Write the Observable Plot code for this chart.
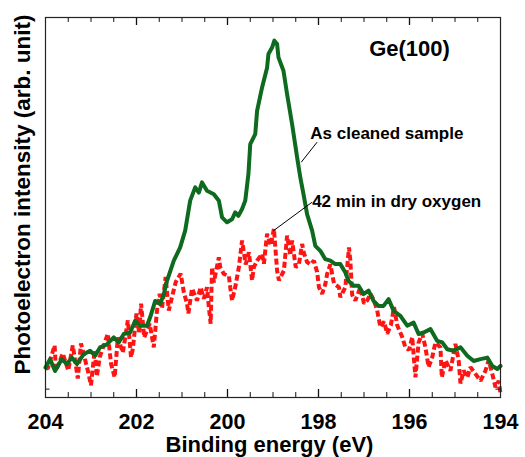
<!DOCTYPE html>
<html><head><meta charset="utf-8">
<script src="https://cdn.jsdelivr.net/npm/d3@7"></script>
<script src="https://cdn.jsdelivr.net/npm/@observablehq/plot@0.6"></script>
<style>body{margin:0;background:#fff}#chart{width:525px;height:457px}</style>
</head><body><div id="chart"></div>
<script>
// As cleaned sample (green)
const greenEnergy = [204.00,203.90,203.79,203.64,203.53,203.42,203.31,203.16,203.02,202.91,202.80,202.65,202.50,202.39,202.28,202.14,202.03,201.92,201.77,201.70,201.59,201.48,201.40,201.33,201.18,201.04,200.93,200.82,200.71,200.63,200.56,200.45,200.30,200.19,200.12,200.01,199.90,199.83,199.76,199.68,199.61,199.54,199.50,199.39,199.35,199.24,199.13,199.10,199.02,198.97,198.91,198.88,198.77,198.69,198.58,198.47,198.40,198.33,198.25,198.14,198.07,197.96,197.85,197.74,197.63,197.52,197.41,197.34,197.23,197.12,197.01,196.90,196.79,196.68,196.57,196.46,196.35,196.20,196.05,195.91,195.80,195.69,195.54,195.39,195.28,195.17,195.03,194.88,194.73,194.59,194.44,194.29,194.18,194.07,194.00];
const greenIntensity = [7.9,10.1,7.0,10.1,8.8,10.5,8.8,11.4,12.3,11.0,13.2,14.0,15.8,14.5,16.7,17.1,20.2,18.9,18.9,21.1,25.4,24.6,27.2,30.7,36.0,39.5,43.9,51.8,55.3,53.9,56.6,54.4,53.5,51.8,47.4,46.1,46.9,48.7,47.8,49.6,51.8,58.8,66.7,69.3,75.4,81.6,86.8,90.4,92.1,93.9,93.0,89.5,86.0,79.8,71.9,63.2,57.9,53.5,48.2,43.9,39.9,38.6,36.4,36.0,35.1,35.1,32.9,30.7,29.4,29.4,27.2,28.1,25.4,24.1,24.1,25.9,22.8,21.5,18.9,19.7,16.7,17.1,18.0,14.9,14.5,12.7,12.3,13.2,11.0,9.6,10.1,10.5,8.3,7.5,8.3];
// 42 min in dry oxygen (red, dashed)
const redEnergy = [204.00,203.95,203.80,203.77,203.62,203.50,203.40,203.29,203.22,203.07,203.00,202.92,202.87,202.81,202.63,202.56,202.48,202.41,202.30,202.19,202.12,202.08,202.00,201.94,201.90,201.83,201.71,201.62,201.55,201.49,201.44,201.36,201.29,201.22,201.14,201.03,200.96,200.89,200.86,200.78,200.67,200.59,200.52,200.45,200.41,200.37,200.34,200.30,200.19,200.16,200.08,199.97,199.94,199.90,199.83,199.75,199.68,199.60,199.53,199.46,199.42,199.35,199.24,199.20,199.13,199.05,198.98,198.91,198.87,198.76,198.69,198.62,198.58,198.50,198.43,198.36,198.32,198.25,198.18,198.10,198.03,197.99,197.92,197.85,197.81,197.74,197.66,197.55,197.52,197.41,197.33,197.30,197.26,197.19,197.08,197.00,196.93,196.86,196.78,196.71,196.64,196.56,196.49,196.41,196.34,196.27,196.16,196.09,196.01,195.94,195.87,195.80,195.72,195.65,195.58,195.50,195.43,195.32,195.29,195.21,195.10,194.99,194.92,194.88,194.81,194.73,194.66,194.55,194.44,194.33,194.26,194.18,194.11,194.04,194.00];
const redIntensity = [7.9,7.6,13.7,7.1,11.6,7.1,13.7,5.0,14.2,7.1,3.2,12.4,5.5,10.6,16.8,8.9,5.3,15.8,11.8,20.3,10.6,12.9,22.1,16.8,24.7,15.8,19.4,13.2,22.9,27.3,23.4,31.7,22.9,26.4,30.3,32.6,27.7,24.7,22.1,28.7,25.5,29.0,26.0,29.0,23.8,19.4,34.3,30.3,36.9,34.3,32.5,32.0,29.0,25.5,29.0,34.3,41.3,35.0,38.2,30.8,34.3,36.0,37.8,35.2,43.1,40.0,44.4,33.4,30.8,33.4,42.6,37.4,41.3,34.3,35.0,40.4,38.0,35.6,35.0,36.0,33.0,29.0,27.3,29.8,32.5,35.0,30.0,29.0,26.4,29.0,39.5,36.0,27.0,25.5,29.0,24.7,25.5,27.3,25.5,22.9,18.5,20.0,16.8,19.0,23.8,19.0,15.9,13.2,12.5,15.9,5.3,14.5,16.8,13.2,8.0,10.6,14.5,13.2,5.3,9.8,7.1,14.1,9.8,3.7,7.1,5.3,8.0,6.2,4.4,7.1,9.8,6.2,2.7,4.4,1.0];

const xTickLabels = [204, 202, 200, 198, 196, 194];
const minorTicks = [203.5,203,202.5,202,201.5,201,200.5,200,199.5,199,198.5,198,197.5,197,196.5,196,195.5,195,194.5];
const majorTicks = [202, 200, 198, 196];
const seriesNames = ["As cleaned sample", "42 min in dry oxygen"];
const sampleLabel = "Ge(100)";
const xLabel = "Binding energy (eV)";
const yLabel = "Photoelectron intensity (arb. unit)";

// annotation anchors (data units)
const annotations = [
  {text: seriesNames[0], E: 198.18, v: 69.5, E1: 198.03, v1: 67.2, E2: 198.38, v2: 61.9},
  {text: seriesNames[1], E: 198.14, v: 51.5, E1: 198.14, v1: 51.4, E2: 198.99, v2: 43.9}
];

const green = greenEnergy.map((e, i) => ({E: e, v: greenIntensity[i]}));
const red = redEnergy.map((e, i) => ({E: e, v: redIntensity[i]}));

const font = "'Liberation Sans', Arial, sans-serif";

const chart = Plot.plot({
  width: 525,
  height: 457,
  marginLeft: 45,
  marginRight: 25,
  marginTop: 17,
  marginBottom: 60,
  style: {fontFamily: font, background: "#fff"},
  x: {domain: [204, 194], axis: null},
  y: {domain: [0, 100], axis: null},
  marks: [
    Plot.line(red, {x: "E", y: "v", stroke: "#ff1414", strokeWidth: 4, strokeDasharray: "6,3", strokeLinejoin: "miter", strokeLinecap: "butt"}),
    Plot.line(green, {x: "E", y: "v", stroke: "#0e6a1e", strokeWidth: 4, strokeLinejoin: "round"}),
    Plot.ruleX(minorTicks, {x: d => d, y1: 0, y2: 1.3, stroke: "#111", strokeWidth: 1}),
    Plot.ruleX(minorTicks, {x: d => d, y1: 100, y2: 98.7, stroke: "#111", strokeWidth: 1}),
    Plot.ruleX(majorTicks, {x: d => d, y1: 0, y2: 2.1, stroke: "#111", strokeWidth: 1.3}),
    Plot.ruleX(majorTicks, {x: d => d, y1: 100, y2: 97.9, stroke: "#111", strokeWidth: 1.3}),
    Plot.ruleY([2.2], {y: d => d, x1: 204, x2: 203.9, stroke: "#111"}),
    Plot.ruleY([2.2], {y: d => d, x1: 194, x2: 194.1, stroke: "#111"}),
    Plot.frame({stroke: "#222", strokeWidth: 1.2}),
    Plot.text(xTickLabels, {x: d => d, y: 0, dy: 25, text: d => String(d), fontSize: 21.5, fontWeight: "bold", fill: "#000"}),
    Plot.text([xLabel], {frameAnchor: "bottom", textAnchor: "middle", lineAnchor: "middle", dx: -3.5, dy: 47.5, text: d => d, fontSize: 22, fontWeight: "bold", fill: "#000"}),
    Plot.text([yLabel], {frameAnchor: "left", textAnchor: "middle", lineAnchor: "middle", rotate: -90, dx: -22.5, dy: -13, text: d => d, fontSize: 22.5, fontWeight: "bold", fill: "#000"}),
    Plot.text([sampleLabel], {x: () => 196.0, y: () => 91.8, text: d => d, fontSize: 22, fontWeight: "bold", fill: "#000"}),
    Plot.link(annotations, {x1: "E1", y1: "v1", x2: "E2", y2: "v2", stroke: "#000", strokeWidth: 1}),
    Plot.text(annotations, {x: "E", y: "v", text: "text", textAnchor: "start", fontSize: 17, fontWeight: "bold", fill: "#000"})
  ]
});
document.getElementById("chart").appendChild(chart);
</script>
</body></html>
